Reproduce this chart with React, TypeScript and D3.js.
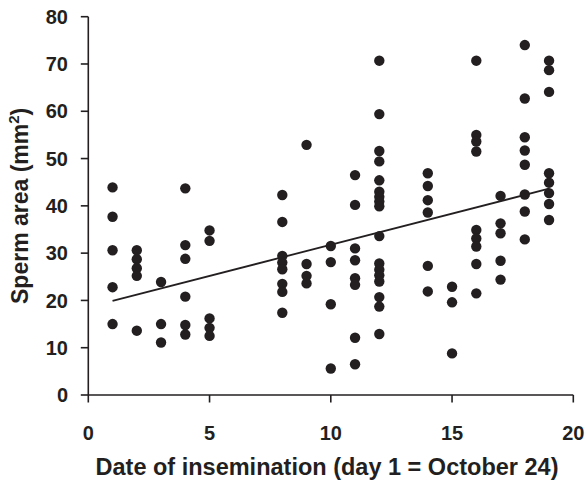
import React from "react";
import * as d3 from "d3";

// Day of insemination (day 1 = October 24) and sperm area (mm²) per observation
const day1 = [43.9, 37.7, 30.6, 22.8, 15.0];
const day2 = [30.6, 28.7, 26.8, 25.2, 13.6];
const day3 = [23.9, 15.0, 11.1];
const day4 = [43.7, 31.7, 28.8, 20.8, 14.8, 12.8];
const day5 = [34.8, 32.6, 16.2, 14.2, 12.5];
const day8 = [42.3, 36.6, 29.4, 28.0, 26.6, 23.5, 21.8, 17.4];
const day9 = [52.9, 27.7, 25.2, 23.6];
const day10 = [31.5, 28.1, 19.2, 5.6];
const day11 = [46.5, 40.2, 31.0, 28.5, 24.7, 23.3, 12.1, 6.5];
const day12 = [70.7, 59.4, 51.6, 49.4, 45.4, 43.0, 41.9, 40.9, 39.9, 33.6, 27.8, 26.5, 25.3, 24.0, 20.7, 18.7, 12.9];
const day14 = [46.9, 44.2, 41.2, 38.6, 27.3, 21.9];
const day15 = [22.9, 19.6, 8.8];
const day16 = [70.7, 55.0, 53.6, 51.5, 34.9, 33.1, 31.4, 27.7, 21.5];
const day17 = [42.1, 36.3, 34.2, 28.4, 24.4];
const day18 = [74.0, 62.7, 54.5, 51.7, 48.7, 42.4, 38.8, 32.9];
const day19 = [70.7, 68.7, 64.1, 46.9, 44.9, 42.7, 40.4, 37.0];

const days = [1, 2, 3, 4, 5, 8, 9, 10, 11, 12, 14, 15, 16, 17, 18, 19];
const values = [day1, day2, day3, day4, day5, day8, day9, day10, day11, day12, day14, day15, day16, day17, day18, day19];

// Fitted regression line
const fitIntercept = 18.6;
const fitSlope = 1.317;
const fitRange = [1, 19];

const xTicks = [0, 5, 10, 15, 20];
const yTicks = [0, 10, 20, 30, 40, 50, 60, 70, 80];

const W = 588;
const H = 482;
const left = 88.3;
const right = 573.3;
const top = 16.7;
const bottom = 395;

export default function App() {
  const x = d3.scaleLinear().domain([0, 20]).range([left, right]);
  const y = d3.scaleLinear().domain([0, 80]).range([bottom, top]);
  const points = days.flatMap((d, i) => values[i].map((v) => ({ d, v })));
  const line = d3
    .line<number>()
    .x((d) => x(d))
    .y((d) => y(fitIntercept + fitSlope * d));
  const font = "'Liberation Sans', Arial, sans-serif";
  const ink = "#231f20";
  return (
    <svg
      width={W}
      height={H}
      style={{ position: "absolute", left: 0, top: 0, background: "#fff" }}
      fontFamily={font}
    >
      <rect width={W} height={H} fill="#fff" />
      {/* axes */}
      <line x1={left} x2={left} y1={top} y2={bottom} stroke={ink} strokeWidth={1.6} />
      <line x1={left} x2={right} y1={bottom} y2={bottom} stroke={ink} strokeWidth={1.6} />
      {yTicks.map((t) => (
        <g key={"y" + t}>
          <line x1={left - 7.5} x2={left} y1={y(t)} y2={y(t)} stroke={ink} strokeWidth={1.6} />
          <text
            x={68}
            y={y(t)}
            dy="0.36em"
            textAnchor="end"
            fontSize={20}
            fontWeight="bold"
            fill={ink}
          >
            {t}
          </text>
        </g>
      ))}
      {xTicks.map((t) => (
        <g key={"x" + t}>
          <line x1={x(t)} x2={x(t)} y1={bottom} y2={bottom + 7.5} stroke={ink} strokeWidth={1.6} />
          <text
            x={x(t)}
            y={440}
            textAnchor="middle"
            fontSize={20}
            fontWeight="bold"
            fill={ink}
          >
            {t}
          </text>
        </g>
      ))}
      {/* axis titles */}
      <text
        x={327}
        y={475}
        textAnchor="middle"
        fontSize={23.5}
        fontWeight="bold"
        fill={ink}
      >
        Date of insemination (day 1 = October 24)
      </text>
      <text
        transform={`translate(28,${(top + bottom) / 2}) rotate(-90)`}
        textAnchor="middle"
        fontSize={23}
        fontWeight="bold"
        fill={ink}
      >
        Sperm area (mm
        <tspan dy="-9" fontSize={15}>2</tspan>
        <tspan dy="9">)</tspan>
      </text>
      {/* regression line */}
      <path d={line(fitRange) || ""} stroke={ink} strokeWidth={1.8} fill="none" />
      {/* points */}
      {points.map((p, i) => (
        <circle key={i} cx={x(p.d)} cy={y(p.v)} r={5.2} fill={ink} />
      ))}
    </svg>
  );
}
